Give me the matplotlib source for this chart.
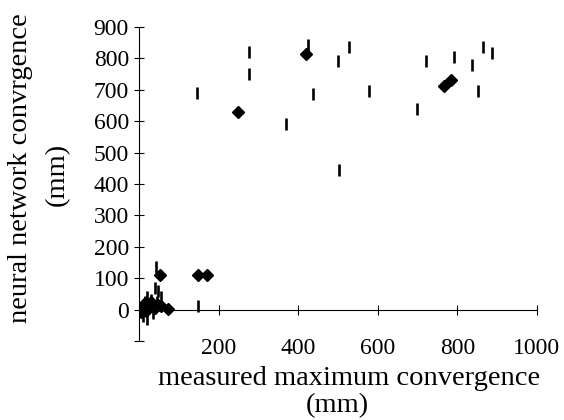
import matplotlib.pyplot as plt
import numpy as np

# data (mm)
diamond_x = [247, 419, 766, 784, 51, 147, 170,
             8, 14, 18, 24, 29, 34, 40, 46, 55, 72, 12, 5]
diamond_y = [629, 815, 712, 732, 109, 109, 109,
             5, 20, -5, 15, 25, 10, 5, 15, 10, 3, 0, -8]
dash_x = [145, 276, 276, 368, 423, 527, 499, 437, 577, 502,
          721, 791, 837, 865, 888, 852, 698, 42, 147,
          5, 10, 15, 20, 25, 30, 35, 40, 48, 54, 45, 20]
dash_y = [690, 821, 751, 591, 843, 837, 790, 686, 696, 444,
          790, 803, 780, 837, 818, 696, 638, 135, 10,
          0, -20, 25, 40, 10, 30, -10, 70, 60, 40, 25, -30]
x_ticks = [200, 400, 600, 800, 1000]
y_ticks = [-100, 0, 100, 200, 300, 400, 500, 600, 700, 800, 900]
y_labels = ["", "0", "100", "200", "300", "400", "500", "600", "700", "800", "900"]

plt.rcParams["font.family"] = ["Liberation Serif", "DejaVu Serif"]

fig = plt.figure(figsize=(5.64, 4.2), dpi=100)
ax = fig.add_axes([0.247, 0.188, 0.705, 0.748])

ax.plot(dash_x, dash_y, ls="none", marker="|", ms=9, mew=1.9, color="black")
ax.plot(diamond_x, diamond_y, ls="none", marker="D", ms=6, mew=1, color="black")

ax.set_xlim(0, 1000)
ax.set_ylim(-100, 900)

for side in ["top", "right"]:
    ax.spines[side].set_visible(False)
ax.spines["bottom"].set_position(("data", 0))
ax.spines["left"].set_position(("data", 0))
ax.spines["bottom"].set_linewidth(0.8)
ax.spines["left"].set_linewidth(0.8)

ax.set_xticks(x_ticks)
ax.set_yticks(y_ticks)
ax.set_yticklabels(y_labels)
ax.tick_params(axis="both", direction="inout", length=7, width=0.8, labelsize=17)
ax.tick_params(axis="x", labelbottom=False)
ax.tick_params(axis="y", pad=4)

# x tick labels sit at the bottom of the plot, not at y = 0
sec = ax.secondary_xaxis(0)
sec.spines["bottom"].set_visible(False)
sec.set_xticks(x_ticks)
sec.tick_params(length=0, labelsize=17, pad=-2)

fig.text(0.619, 0.098, "measured maximum convergence", ha="center", va="center", fontsize=20.5)
fig.text(0.598, 0.035, "(mm)", ha="center", va="center", fontsize=20.5)
fig.text(0.037, 0.60, "neural network convrgence", rotation=90, ha="center", va="center", fontsize=20.5)
fig.text(0.101, 0.585, "(mm)", rotation=90, ha="center", va="center", fontsize=20.5)

fig.savefig("out.png", dpi=100)
